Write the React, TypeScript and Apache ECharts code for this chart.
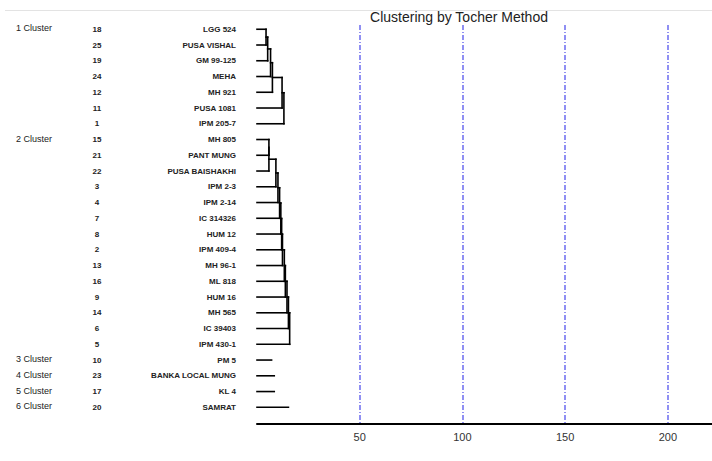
import React, { useEffect, useRef } from "react";
import * as echarts from "echarts";

const clusterLabels = ["1 Cluster", "2 Cluster", "3 Cluster", "4 Cluster", "5 Cluster", "6 Cluster"];
const clusterSizes = [7, 14, 1, 1, 1, 1];
const genotypeNumbers = [18, 25, 19, 24, 12, 11, 1, 15, 21, 22, 3, 4, 7, 8, 2, 13, 16, 9, 14, 6, 5, 10, 23, 17, 20];
const genotypeNames = [
  "LGG 524", "PUSA VISHAL", "GM 99-125", "MEHA", "MH 921", "PUSA 1081", "IPM 205-7",
  "MH 805", "PANT MUNG", "PUSA BAISHAKHI", "IPM 2-3", "IPM 2-14", "IC 314326", "HUM 12",
  "IPM 409-4", "MH 96-1", "ML 818", "HUM 16", "MH 565", "IC 39403", "IPM 430-1",
  "PM 5", "BANKA LOCAL MUNG", "KL 4", "SAMRAT",
];
// distance at which each genotype joins its cluster (first member of a multi-member cluster = 0);
// for single-member clusters it is the length of the drawn stub
const mergeDistances = [
  0, 4.4, 5.2, 6.6, 7.5, 12.2, 13.1,
  0, 5.8, 5.8, 9.2, 10.2, 11.0, 11.6, 12.0, 12.4, 13.3, 13.8, 14.6, 15.3, 15.9,
  7.1, 8.4, 8.4, 15.3,
];
const xTicks = [50, 100, 150, 200];

function buildSegments(): number[][] {
  const segs: number[][] = [];
  let row = 0;
  clusterSizes.forEach((size) => {
    if (size === 1) {
      segs.push([0, row, mergeDistances[row], row]);
      row += 1;
      return;
    }
    let node = { y: row, h: 0 };
    for (let k = 1; k < size; k++) {
      const r = row + k;
      const H = mergeDistances[r];
      segs.push([node.h, node.y, H, node.y]);
      segs.push([0, r, H, r]);
      segs.push([H, node.y, H, r]);
      node = { y: (node.y + r) / 2, h: H };
    }
    row += size;
  });
  return segs;
}

function clusterStartRows(): number[] {
  const starts: number[] = [];
  let r = 0;
  clusterSizes.forEach((s) => {
    starts.push(r);
    r += s;
  });
  return starts;
}

export default function App() {
  const ref = useRef<HTMLDivElement>(null);
  useEffect(() => {
    if (!ref.current) return;
    const chart = echarts.init(ref.current, null, { renderer: "svg" });
    const segments = buildSegments();
    const starts = clusterStartRows();
    const rowData = genotypeNames.map((_, i) => [0, i]);
    const font = "Liberation Sans, Arial, sans-serif";
    chart.setOption({
      animation: false,
      backgroundColor: "#fff",
      title: {
        text: "Clustering by Tocher Method",
        left: 459,
        top: 10,
        padding: 0,
        textAlign: "center",
        textStyle: { fontSize: 14, fontWeight: "normal", color: "#222", fontFamily: font },
      },
      graphic: [
        {
          type: "line",
          shape: { x1: 5, y1: 10.5, x2: 712, y2: 10.5 },
          style: { stroke: "#e3e3e3", lineWidth: 1 },
        },
      ],
      grid: { left: 257, right: 0, top: 25, bottom: 37 },
      xAxis: {
        type: "value",
        min: 0,
        max: 221.5,
        interval: 50,
        axisLine: { show: true, onZero: false, lineStyle: { color: "#000", width: 2 } },
        axisTick: { show: false },
        axisLabel: {
          showMaxLabel: false,
          color: "#333",
          fontSize: 11,
          fontFamily: font,
          margin: 7,
          formatter: (v: number) => (xTicks.includes(v) ? String(v) : ""),
        },
        splitLine: {
          show: true,
          showMinLine: false,
          showMaxLine: false,
          lineStyle: { color: "#6b6bf0", width: 1.5, type: [5, 2, 1, 2] },
        },
      },
      yAxis: {
        type: "value",
        inverse: true,
        min: -0.27,
        max: 25.06,
        show: false,
        splitLine: { show: false },
      },
      series: [
        {
          type: "custom",
          clip: false,
          data: segments,
          encode: { x: [0, 2], y: [1, 3] },
          renderItem: (params: any, api: any) => {
            const p1 = api.coord([api.value(0), api.value(1)]);
            const p2 = api.coord([api.value(2), api.value(3)]);
            return {
              type: "line",
              shape: { x1: p1[0], y1: p1[1], x2: p2[0], y2: p2[1] },
              style: { stroke: "#000", lineWidth: 1.6, lineCap: "square" },
            };
          },
        },
        {
          type: "custom",
          clip: false,
          data: rowData,
          encode: { x: 0, y: 1 },
          renderItem: (params: any, api: any) => {
            const i = params.dataIndex;
            const y = api.coord([0, i])[1];
            const children: any[] = [
              {
                type: "text",
                style: {
                  text: String(genotypeNumbers[i]),
                  x: 97,
                  y,
                  align: "center",
                  verticalAlign: "middle",
                  fill: "#222",
                  font: `bold 8px ${font}`,
                },
              },
              {
                type: "text",
                style: {
                  text: genotypeNames[i],
                  x: 236,
                  y,
                  align: "right",
                  verticalAlign: "middle",
                  fill: "#222",
                  font: `bold 8px ${font}`,
                },
              },
            ];
            const ci = starts.indexOf(i);
            if (ci >= 0) {
              children.push({
                type: "text",
                style: {
                  text: clusterLabels[ci],
                  x: 16,
                  y: y - 1,
                  align: "left",
                  verticalAlign: "middle",
                  fill: "#222",
                  font: `9px ${font}`,
                },
              });
            }
            return { type: "group", children };
          },
        },
      ],
    });
    return () => chart.dispose();
  }, []);
  return (
    <div
      ref={ref}
      style={{ position: "absolute", left: 0, top: 0, width: 712, height: 461 }}
    />
  );
}
